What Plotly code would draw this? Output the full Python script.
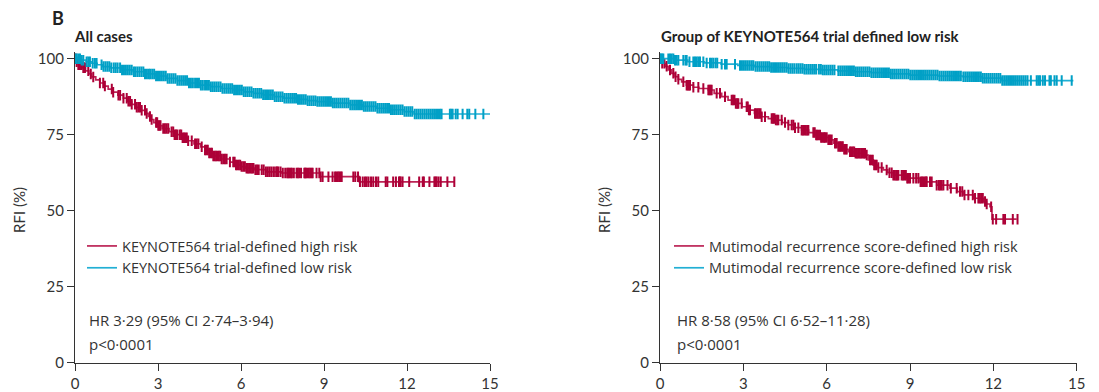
import numpy as np
import plotly.graph_objects as go

# ---------------- data ----------------
x_ticks = [0, 3, 6, 9, 12, 15]
y_ticks = [0, 25, 50, 75, 100]

# Left panel: All cases, KEYNOTE564 trial-defined high risk
LH_t = [0, 0.05, 0.12, 0.25, 0.38, 0.5, 0.6, 0.75, 0.9, 1.05, 1.2, 1.35, 1.55, 1.75, 1.9, 2.05, 2.2,
        2.4, 2.55, 2.65, 2.75, 2.85, 3.0, 3.15, 3.4, 3.6, 3.85, 4.05, 4.3, 4.55, 4.7, 4.85, 5.0, 5.3,
        5.6, 5.8, 6.0, 6.15, 6.5, 6.9, 7.45, 8.85, 10.28, 13.71]
LH_s = [100, 99, 98, 97, 96, 95, 94, 93, 92, 91, 90, 89, 88, 87, 86, 85, 84,
        83, 82, 81, 80, 79, 78, 77, 76, 75, 74, 73, 72, 71, 70, 69, 68, 67,
        66, 65, 64.5, 64, 63.5, 62.8, 62.4, 61.2, 59.5, 59.5]
LH_cens = [0.02, 0.06, 0.12, 0.15, 0.18, 0.24, 0.30, 0.33, 0.36, 0.48, 0.57, 0.66, 0.90, 1.02, 1.08,
           1.33, 1.38, 1.57, 1.63, 1.75, 1.87, 1.93, 1.99, 2.05, 2.17, 2.23, 2.29, 2.35, 2.41, 2.53,
           2.59, 2.71, 2.77, 2.93, 2.97, 3.01, 3.05, 3.09, 3.19, 3.25, 3.31, 3.37, 3.49, 3.55, 3.60,
           3.65, 3.70, 3.79, 3.84, 3.89, 3.94, 3.99, 4.04, 4.09, 4.22, 4.34, 4.40, 4.46, 4.58, 4.70,
           4.75, 4.80, 4.85, 4.90, 4.95, 5.00, 5.05, 5.10, 5.15, 5.20, 5.25, 5.30, 5.36, 5.42, 5.48,
           5.60, 5.72, 5.77, 5.82, 5.87, 5.92, 5.97, 6.02, 6.08, 6.14, 6.20, 6.25, 6.30, 6.35, 6.40,
           6.45, 6.52, 6.58, 6.64, 6.75, 6.82, 6.90, 6.97, 7.04, 7.11, 7.19, 7.27, 7.31, 7.35, 7.43,
           7.51, 7.60, 7.67, 7.71, 7.75, 7.80, 7.84, 7.91, 8.01, 8.05, 8.10, 8.17, 8.29, 8.31, 8.35,
           8.40, 8.45, 8.50, 8.55, 8.59, 8.73, 8.83, 8.88, 8.95, 9.16, 9.31, 9.40, 9.45, 9.50, 9.55,
           9.60, 9.64, 10.06, 10.13, 10.23, 10.30, 10.40, 10.48, 10.54, 10.61, 10.70, 10.78, 10.88,
           10.96, 11.23, 11.29, 11.50, 11.60, 11.71, 11.74, 11.77, 11.84, 12.08, 12.44, 12.57, 12.61,
           12.81, 12.99, 13.03, 13.07, 13.14, 13.22, 13.46, 13.71]

# Left panel: KEYNOTE564 trial-defined low risk
LL_t = [0, 0.2, 0.4, 0.6, 0.8, 1.0, 1.3, 1.7, 2.1, 2.5, 2.9, 3.3, 3.7, 4.1, 4.5, 4.9, 5.3, 5.7, 6.1,
        6.45, 6.8, 7.2, 7.55, 8.0, 8.4, 8.75, 9.3, 9.95, 10.4, 10.9, 11.4, 11.9, 12.25, 15.0]
LL_s = [100, 99.5, 99, 98.5, 98, 97.4, 97, 96.3, 95.7, 95, 94.3, 93.5, 92.8, 92, 91.3, 90.8, 90.2,
        89.7, 89.1, 88.6, 88.1, 87.5, 87, 86.6, 86.2, 85.9, 85.4, 84.8, 84.3, 83.7, 83.2, 82.6, 81.8, 81.8]
LL_cens = [0.01, 0.06, 0.12, 0.18, 0.24, 0.30, 0.42, 0.48, 0.54, 0.64, 0.72, 0.78, 0.96, 1.03, 1.10,
           1.17, 1.24, 1.31, 1.40, 1.47, 1.54, 1.63, 1.70, 1.77, 1.84, 1.91, 1.98, 2.05, 2.13, 2.19,
           2.26, 2.33, 2.40, 2.47, 2.53, 2.60, 2.67, 2.72, 2.79, 2.86, 2.93, 3.00, 3.07, 3.14, 3.21,
           3.28, 3.35, 3.42, 3.49, 3.56, 3.63, 3.70, 3.77, 3.84, 3.91, 3.98, 4.05, 4.12, 4.19, 4.26,
           4.34, 4.41, 4.48, 4.55, 4.62, 4.70, 4.77, 4.84, 4.91, 4.98, 5.05, 5.12, 5.19, 5.26, 5.33,
           5.40, 5.47, 5.54, 5.61, 5.68, 5.75, 5.82, 5.89, 5.96, 6.03, 6.10, 6.17, 6.24, 6.31, 6.38,
           6.45, 6.52, 6.59, 6.66, 6.73, 6.80, 6.87, 6.94, 7.01, 7.08, 7.15, 7.22, 7.29, 7.36, 7.43,
           7.50, 7.57, 7.64, 7.71, 7.78, 7.85, 7.92, 7.99, 8.06, 8.13, 8.20, 8.27, 8.34, 8.41, 8.48,
           8.55, 8.62, 8.69, 8.76, 8.83, 8.90, 8.97, 9.04, 9.11, 9.18, 9.25, 9.32, 9.39, 9.46, 9.53,
           9.60, 9.67, 9.74, 9.81, 9.88, 9.95, 10.02, 10.09, 10.16, 10.23, 10.30, 10.37, 10.44, 10.51,
           10.58, 10.65, 10.72, 10.79, 10.86, 10.93, 11.00, 11.07, 11.14, 11.21, 11.28, 11.35, 11.42,
           11.49, 11.56, 11.63, 11.70, 11.77, 11.84, 11.91, 11.98, 12.05, 12.12, 12.19, 12.28, 12.35,
           12.42, 12.49, 12.56, 12.63, 12.70, 12.77, 12.84, 12.91, 12.98, 13.05, 13.12, 13.19, 13.25,
           13.55, 13.60, 13.65, 13.76, 13.83, 14.01, 14.18, 14.25, 14.47, 14.76]

# Right panel: Mutimodal recurrence score-defined high risk
RH_t = [0, 0.06, 0.18, 0.3, 0.42, 0.54, 0.66, 0.78, 0.95, 1.2, 1.4, 1.74, 1.95, 2.22, 2.45, 2.7,
        2.95, 3.18, 3.4, 3.66, 3.9, 4.14, 4.4, 4.62, 4.85, 5.1, 5.35, 5.58, 5.8, 6.06, 6.25, 6.42,
        6.6, 6.78, 7.0, 7.4, 7.5, 7.68, 7.85, 8.04, 8.2, 8.4, 8.88, 9.36, 9.96, 10.44, 10.7, 10.92,
        11.3, 11.64, 11.75, 11.88, 11.95, 12.84]
RH_s = [100, 98.5, 97.5, 96.3, 95.2, 94.1, 93.2, 92.4, 91.3, 90.6, 90.2, 89.7, 88.6, 87.5, 86.4,
        85.3, 84.2, 83.1, 82, 80.9, 80.3, 79.8, 79, 78.2, 77.3, 76.5, 75.7, 74.9, 74.1, 73.3, 72.2,
        71.1, 70.2, 69.4, 68.9, 68.3, 66.7, 65, 64.2, 63.4, 62.5, 61.7, 60.7, 59.5, 58.4, 57.4, 56.3,
        55.2, 54.1, 53, 52.2, 51.3, 47.2, 47.2]
RH_cens = [0.08, 0.16, 0.24, 0.36, 0.48, 0.56, 0.66, 0.84, 0.96, 1.00, 1.04, 1.08, 1.20, 1.38, 1.56,
           1.74, 1.78, 1.82, 1.86, 2.04, 2.16, 2.34, 2.58, 2.63, 2.68, 2.73, 2.78, 2.82, 2.94, 3.12,
           3.16, 3.20, 3.24, 3.42, 3.47, 3.52, 3.57, 3.62, 3.66, 3.78, 4.02, 4.07, 4.12, 4.17, 4.22,
           4.26, 4.38, 4.50, 4.62, 4.74, 4.80, 4.86, 4.98, 5.10, 5.15, 5.20, 5.25, 5.30, 5.34, 5.52,
           5.57, 5.62, 5.66, 5.70, 5.76, 5.80, 5.85, 5.90, 5.94, 6.00, 6.06, 6.12, 6.18, 6.30, 6.36,
           6.42, 6.48, 6.53, 6.58, 6.63, 6.68, 6.72, 6.84, 6.89, 6.94, 6.99, 7.04, 7.09, 7.14, 7.19,
           7.24, 7.29, 7.34, 7.38, 7.44, 7.56, 7.61, 7.66, 7.71, 7.76, 7.80, 7.86, 7.98, 8.16, 8.26,
           8.34, 8.40, 8.45, 8.50, 8.54, 8.58, 8.70, 8.75, 8.80, 8.85, 8.90, 8.94, 9.00, 9.12, 9.22,
           9.30, 9.38, 9.43, 9.48, 9.53, 9.58, 9.60, 9.72, 9.78, 9.96, 10.04, 10.09, 10.14, 10.20,
           10.35, 10.47, 10.68, 10.80, 10.88, 10.96, 11.10, 11.26, 11.34, 11.46, 11.51, 11.56, 11.62,
           11.70, 11.76, 11.92, 11.98, 12.10, 12.36, 12.42, 12.70, 12.87]

# Right panel: Mutimodal recurrence score-defined low risk
RL_t = [0, 0.5, 1.0, 1.6, 2.2, 2.8, 3.4, 4.0, 4.6, 5.2, 5.8, 6.4, 7.0, 7.6, 8.3, 9.0, 10.0, 10.9,
        11.6, 12.3, 14.88]
RL_s = [100, 99.5, 99, 98.6, 98.2, 97.8, 97.4, 97.1, 96.8, 96.5, 96.3, 96, 95.7, 95.4, 95, 94.6,
        94.3, 94.1, 93.6, 92.8, 92.8]
RL_cens = [0.00, 0.04, 0.08, 0.12, 0.30, 0.36, 0.42, 0.48, 0.54, 0.60, 0.66, 0.84, 0.92, 0.96,
           1.06, 1.20, 1.26, 1.32, 1.38, 1.44, 1.56, 1.68, 1.80, 1.86, 1.92, 2.00, 2.06, 2.22, 2.34,
           2.40, 2.70, 2.88, 2.95, 3.02, 3.09, 3.16, 3.23, 3.30, 3.36, 3.44, 3.51, 3.58, 3.65, 3.72,
           3.79, 3.86, 3.93, 4.00, 4.07, 4.14, 4.21, 4.28, 4.35, 4.42, 4.49, 4.56, 4.63, 4.70, 4.77,
           4.84, 4.92, 4.99, 5.06, 5.13, 5.20, 5.27, 5.34, 5.41, 5.48, 5.55, 5.62, 5.72, 5.79, 5.86,
           5.93, 6.00, 6.07, 6.14, 6.21, 6.28, 6.42, 6.49, 6.56, 6.63, 6.70, 6.77, 6.84, 6.91, 6.98,
           7.05, 7.12, 7.19, 7.26, 7.33, 7.40, 7.47, 7.54, 7.61, 7.68, 7.75, 7.82, 7.89, 7.96, 8.03,
           8.10, 8.17, 8.24, 8.31, 8.38, 8.45, 8.52, 8.59, 8.66, 8.73, 8.80, 8.87, 8.94, 9.01, 9.08,
           9.15, 9.22, 9.29, 9.36, 9.43, 9.50, 9.57, 9.64, 9.71, 9.78, 9.85, 9.92, 9.99, 10.06, 10.13,
           10.20, 10.27, 10.34, 10.41, 10.48, 10.55, 10.62, 10.69, 10.76, 10.83, 10.92, 10.99, 11.06,
           11.13, 11.20, 11.27, 11.34, 11.41, 11.48, 11.55, 11.62, 11.69, 11.76, 11.83, 11.90, 11.97,
           12.04, 12.11, 12.18, 12.25, 12.32, 12.39, 12.46, 12.53, 12.60, 12.67, 12.74, 12.81, 12.88,
           12.95, 13.02, 13.09, 13.16, 13.23, 13.35, 13.56, 13.62, 13.68, 13.78, 13.86, 14.02, 14.07,
           14.20, 14.28, 14.46, 14.82]

labels_left = ["KEYNOTE564 trial-defined high risk", "KEYNOTE564 trial-defined low risk"]
labels_right = ["Mutimodal recurrence score-defined high risk", "Mutimodal recurrence score-defined low risk"]
hr_left = "HR 3·29 (95% CI 2·74–3·94)"
hr_right = "HR 8·58 (95% CI 6·52–11·28)"
p_text = "p<0·0001"

# ---------------- style ----------------
RED = "#AD0037"
RED_LINE = "#BC2456"
BLUE = "#00A0C6"
BLUE_LINE = "#22AFD4"
TXT = "#333333"
FONT = "Lato, 'Open Sans', sans-serif"
FONT2 = "'Open Sans', Lato, sans-serif"
W, H = 1099, 392


def px(x):
    return x / W


def py(y):
    return 1 - y / H


def surv_at(t_steps, s_steps, times):
    idx = np.searchsorted(np.array(t_steps), np.array(times), side="right") - 1
    return np.array(s_steps)[np.clip(idx, 0, len(s_steps) - 1)]


fig = go.Figure()

panels = [
    ("x", "y", "legend", [(LH_t, LH_s, LH_cens, RED, RED_LINE, labels_left[0]),
                          (LL_t, LL_s, LL_cens, BLUE, BLUE_LINE, labels_left[1])]),
    ("x2", "y2", "legend2", [(RH_t, RH_s, RH_cens, RED, RED_LINE, labels_right[0]),
                             (RL_t, RL_s, RL_cens, BLUE, BLUE_LINE, labels_right[1])]),
]

for xa, ya, lg, series in panels:
    for i, (t, s, c, col, lcol, name) in enumerate(series):
        fig.add_trace(go.Scatter(
            x=t, y=s, mode="lines", line=dict(color=lcol, width=1.7, shape="hv"),
            name=name, legend=lg, xaxis=xa, yaxis=ya, hoverinfo="skip"))
        fig.add_trace(go.Scatter(
            x=c, y=surv_at(t, s, c), mode="markers",
            marker=dict(symbol="line-ns", size=7.5, line=dict(color=col, width=2)),
            showlegend=False, xaxis=xa, yaxis=ya, hoverinfo="skip"))

x_dom_left = [px(75), px(490)]
x_dom_right = [px(660), px(1076.7)]
y_dom = [py(362.7), py(51.7)]

axis_common = dict(showgrid=False, zeroline=False, showline=True, linecolor="#333333", linewidth=1.3,
                   ticks="outside", ticklen=7, tickwidth=1.2, tickcolor="#333333", automargin=False,
                   tickfont=dict(family=FONT, size=15, color=TXT), fixedrange=True)

fig.update_layout(
    template="none",
    xaxis=dict(domain=x_dom_left, range=[0, 15], tickvals=x_ticks, anchor="y", **axis_common),
    yaxis=dict(domain=y_dom, range=[0, 102.3], tickvals=y_ticks, anchor="x", **axis_common),
    xaxis2=dict(domain=x_dom_right, range=[0, 15], tickvals=x_ticks, anchor="y2", **axis_common),
    yaxis2=dict(domain=y_dom, range=[0, 102.3], tickvals=y_ticks, anchor="x2", **axis_common),
)

legend_common = dict(bgcolor="rgba(0,0,0,0)", font=dict(family=FONT2, size=14.5, color=TXT),
                     traceorder="normal", itemwidth=30, borderwidth=0,
                     xanchor="left", yanchor="top", itemclick=False)
fig.update_layout(
    legend=dict(x=px(82), y=py(230), **legend_common),
    legend2=dict(x=px(669), y=py(230), **legend_common),
)

ann = []
ann.append(dict(text="<b>B</b>", x=px(50), y=py(18), xanchor="left", yanchor="middle",
                font=dict(family=FONT, size=18, color="#222222")))
ann.append(dict(text="<b>All cases</b>", x=px(72), y=py(36), xanchor="left", yanchor="middle",
                font=dict(family=FONT, size=15, color="#222222")))
ann.append(dict(text="<b>Group of KEYNOTE564 trial defined low risk</b>", x=px(659), y=py(36),
                xanchor="left", yanchor="middle", font=dict(family=FONT, size=15, color="#222222")))
for xc in (19, 604):
    ann.append(dict(text="RFI (%)", x=px(xc), y=py(210), xanchor="center", yanchor="middle",
                    textangle=-90, font=dict(family=FONT, size=15, color=TXT)))
for x0, hr in ((87, hr_left), (675, hr_right)):
    ann.append(dict(text=hr, x=px(x0), y=py(320), xanchor="left", yanchor="middle",
                    font=dict(family=FONT2, size=15, color=TXT)))
    ann.append(dict(text=p_text, x=px(x0), y=py(344), xanchor="left", yanchor="middle",
                    font=dict(family=FONT2, size=15, color=TXT)))
for a in ann:
    a.update(xref="paper", yref="paper", showarrow=False)

fig.update_layout(
    annotations=ann,
    width=W, height=H, autosize=False,
    margin=dict(l=0, r=0, t=0, b=0, pad=0),
    paper_bgcolor="white", plot_bgcolor="white",
    font=dict(family=FONT, color=TXT),
    hovermode=False,
)

fig.write_html("out.html", config={"displayModeBar": False, "staticPlot": False},
               post_script="document.body.style.margin='0';document.body.style.overflow='hidden';")
